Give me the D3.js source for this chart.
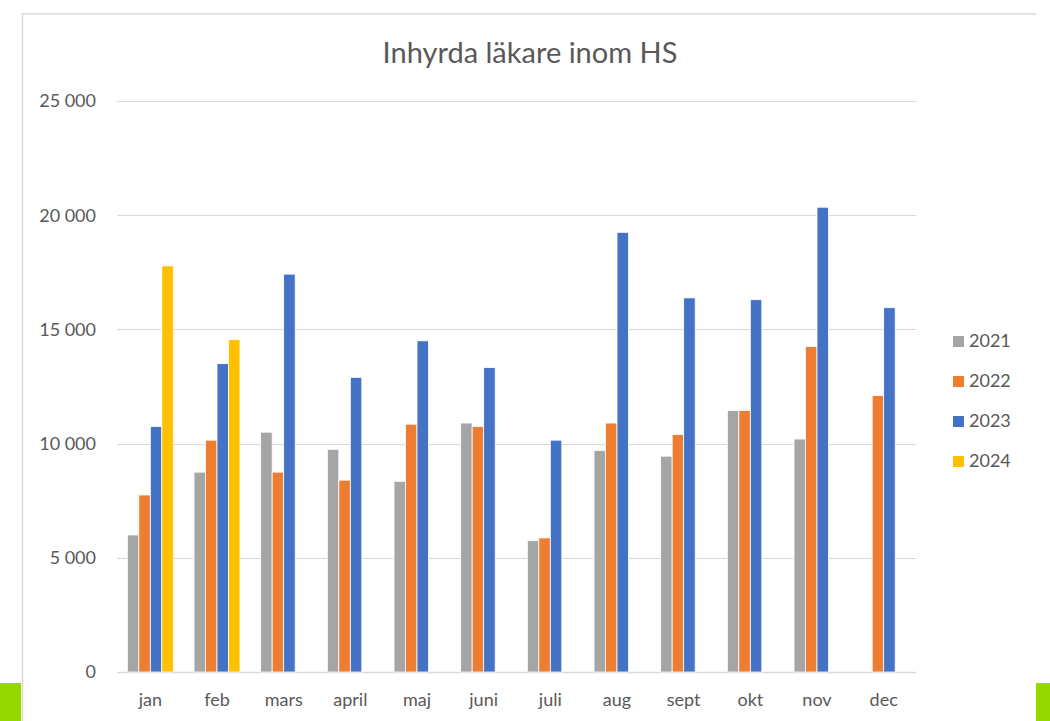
<!DOCTYPE html>
<html>
<head>
<meta charset="utf-8">
<script src="https://cdn.jsdelivr.net/npm/d3@7"></script>
<style>
	body { margin: 0; background: #fff; }
	text { font-family: Lato, "Noto Sans", sans-serif; fill: #595959; }
</style>
</head>
<body>
<svg width="1050" height="721"></svg>
<script>
const months = ["jan", "feb", "mars", "april", "maj", "juni", "juli", "aug", "sept", "okt", "nov", "dec"];
const years = ["2021", "2022", "2023", "2024"];
const colors = ["#A5A5A5", "#ED7D31", "#4472C4", "#FFC000"];

const v2021 = [6000, 8750, 10500, 9750, 8350, 10900, 5750, 9700, 9450, 11450, 10200, null];
const v2022 = [7750, 10150, 8750, 8400, 10850, 10750, 5870, 10900, 10400, 11450, 14250, 12100];
const v2023 = [10750, 13500, 17420, 12900, 14500, 13330, 10150, 19250, 16380, 16300, 20350, 15950];
const v2024 = [17780, 14550, null, null, null, null, null, null, null, null, null, null];
const yTicks = [0, 5000, 10000, 15000, 20000, 25000];

const series = [v2021, v2022, v2023, v2024];

const svg = d3.select("svg"),
	width = +svg.attr("width"),
	height = +svg.attr("height");

// card frame + green corners
svg.append("rect").attr("x", 0).attr("y", 683).attr("width", 21).attr("height", 38).attr("fill", "#97d700");
svg.append("rect").attr("x", 1036).attr("y", 683).attr("width", 14).attr("height", 38).attr("fill", "#97d700");
svg.append("line").attr("x1", 22.5).attr("x2", 22.5).attr("y1", 13).attr("y2", 721)
	.style("stroke", "#d9d9d9").style("stroke-width", 1.5);
svg.append("line").attr("x1", 22).attr("x2", 1036).attr("y1", 14).attr("y2", 14)
	.style("stroke", "#d9d9d9").style("stroke-width", 1.5);

svg.append("text")
	.attr("x", 530)
	.attr("y", 63)
	.attr("text-anchor", "middle")
	.style("font-size", "29px")
	.text("Inhyrda läkare inom HS");

const x0 = d3.scaleBand()
	.domain(months)
	.range([117, 917])
	.paddingInner(0.31)
	.paddingOuter(0.155);

const x1 = d3.scaleBand()
	.domain(years)
	.range([0, x0.bandwidth()]);

const y = d3.scaleLinear()
	.domain([0, 25000])
	.range([672, 101]);

const fmt = (d) => d3.format(",")(d).replace(/,/g, " ");

// gridlines
svg.append("g")
	.selectAll("line")
	.data(yTicks)
	.join("line")
	.attr("x1", 117)
	.attr("x2", 916)
	.attr("y1", (d) => Math.round(y(d)) + 0.5)
	.attr("y2", (d) => Math.round(y(d)) + 0.5)
	.style("stroke", "#d9d9d9")
	.style("stroke-width", (d) => (d === 0 ? 1.5 : 1));

svg.append("g")
	.selectAll("text")
	.data(yTicks)
	.join("text")
	.attr("x", 96)
	.attr("y", (d) => y(d))
	.attr("dy", "0.35em")
	.attr("text-anchor", "end")
	.style("font-size", "18px")
	.text(fmt);

// bars
const groups = svg.append("g")
	.selectAll("g")
	.data(series)
	.join("g")
	.attr("fill", (d, i) => colors[i]);

groups.selectAll("rect")
	.data((vals, i) => vals.map((v, j) => ({ month: months[j], year: years[i], value: v }))
		.filter((d) => d.value != null))
	.join("rect")
	.attr("x", (d) => x0(d.month) + x1(d.year))
	.attr("y", (d) => y(d.value))
	.attr("width", x1.bandwidth())
	.attr("height", (d) => y(0) - y(d.value))
	.style("stroke", "#fff")
	.style("stroke-width", 0.8);

// month labels
svg.append("g")
	.selectAll("text")
	.data(months)
	.join("text")
	.attr("x", (d) => x0(d) + x0.bandwidth() / 2)
	.attr("y", 706)
	.attr("text-anchor", "middle")
	.style("font-size", "18px")
	.text((d) => d);

// legend
const legend = svg.append("g")
	.selectAll("g")
	.data(years)
	.join("g")
	.attr("transform", (d, i) => `translate(953, ${341 + i * 40})`);

legend.append("rect")
	.attr("x", 0)
	.attr("y", -5)
	.attr("width", 11)
	.attr("height", 11)
	.attr("fill", (d, i) => colors[i]);

legend.append("text")
	.attr("x", 16)
	.attr("y", 0)
	.attr("dy", "0.35em")
	.style("font-size", "18px")
	.text((d) => d);
</script>
</body>
</html>
